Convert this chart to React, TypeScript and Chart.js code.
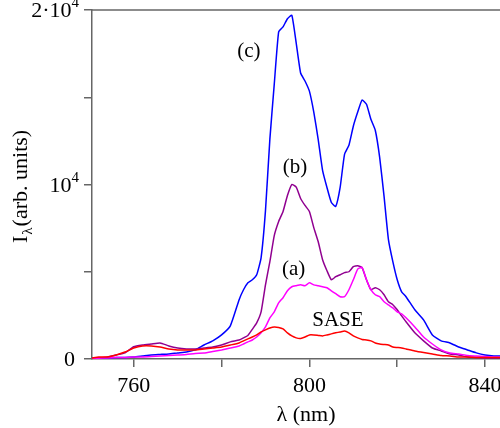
import React, { useEffect, useRef } from "react";
import { Chart, registerables } from "chart.js";

Chart.register(...registerables);

const wavelengths = [750.5, 752, 754, 756, 758, 760, 762, 764, 766, 768, 770, 772, 774, 776, 778, 780, 782,
  784, 785, 786, 787, 788, 789, 790, 791, 792, 793, 794, 795, 796, 797, 798, 799, 800, 801, 802, 803, 804,
  805, 806, 807, 808, 809, 810, 811, 812, 813, 814, 815, 816, 817, 818, 819, 820, 821, 822,
  824, 826, 828, 830, 832, 834, 836, 838, 840, 842, 843.4];

const seriesC = [30, 50, 60, 90, 80, 110, 170, 230, 260, 290, 350, 400, 520, 800, 1040, 1380, 1900,
  3400, 3970, 4370, 4540, 4830, 5800, 8500, 12600, 15750, 18750, 19030, 19500, 19700, 18100, 16390, 15930, 15350, 14150, 12590, 10810, 9830,
  8970, 8740, 9830, 11730, 12250, 13340, 14150, 14840, 14600, 13740, 13110, 11560, 9320, 6840, 5580, 4540, 3850, 3570,
  2820, 2240, 1380, 1040, 920, 690, 520, 350, 230, 170, 170];

const seriesB = [30, 60, 115, 230, 350, 700, 800, 860, 920, 750, 630, 575, 575, 630, 690, 800, 980,
  1090, 1210, 1350, 1700, 2070, 2700, 4250, 5580, 7070, 7880, 8450, 9370, 10000, 9850, 9200, 8800, 8450, 7530, 6730, 5690, 5060,
  4540, 4720, 4830, 4950, 5000, 5290, 5350, 5230, 4540, 3970, 4080, 3970, 3680, 3280, 3110, 2820, 2470, 2130,
  1500, 1040, 630, 460, 290, 230, 115, 90, 60, 60, 60];

const seriesA = [30, 50, 60, 80, 80, 115, 115, 140, 170, 200, 230, 260, 320, 345, 430, 520, 630,
  750, 860, 980, 1090, 1260, 1500, 1840, 2360, 2700, 3220, 3510, 3910, 4140, 4200, 4250, 4200, 4370, 4250, 4200, 4140, 4080,
  3910, 3740, 3570, 3570, 3970, 4540, 5150, 5250, 4540, 3970, 3680, 3570, 3280, 3100, 2930, 2700, 2590, 2360,
  1840, 1260, 860, 520, 345, 290, 200, 170, 140, 115, 115];

const seriesSASE = [60, 115, 115, 230, 400, 630, 750, 750, 690, 575, 520, 520, 520, 575, 630, 690, 800,
  920, 1040, 1150, 1260, 1380, 1550, 1670, 1780, 1840, 1810, 1720, 1500, 1320, 1210, 1180, 1260, 1380, 1380, 1350, 1320, 1380,
  1440, 1500, 1550, 1610, 1500, 1320, 1210, 1120, 1090, 1040, 920, 860, 830, 800, 690, 660, 630, 575,
  460, 370, 290, 200, 170, 115, 115, 90, 90, 90, 90];

const xTickValues = [760, 780, 800, 820, 840];
const xLabelValues = [760, 800, 840];
const yTickValues = [0, 5000, 10000, 15000, 20000];
const yLabelValues = [0, 10000, 20000];
const yLabelMain = ["0", "10", "2·10"];
const yLabelSup = ["", "4", "4"];

const curveLabels = ["(c)", "(b)", "(a)", "SASE"];
const curveLabelX = [786.2, 796.7, 796.4, 806.5];
const curveLabelY = [17600, 10980, 5120, 2185];

const AXIS_COLOR = "#666666";
const FONT = '"Liberation Serif", "Times New Roman", serif';

const textPlugin = {
  id: "textPlugin",
  afterDraw(chart: any) {
    const { ctx, chartArea, scales } = chart;
    const xs = scales.x;
    const ys = scales.y;
    ctx.save();
    ctx.strokeStyle = AXIS_COLOR;
    ctx.lineWidth = 1.5;
    ctx.beginPath();
    ctx.moveTo(chartArea.left, chartArea.top);
    ctx.lineTo(chart.width, chartArea.top);
    ctx.stroke();

    ctx.fillStyle = "#000";
    ctx.font = `22px ${FONT}`;
    ctx.textAlign = "center";
    ctx.textBaseline = "alphabetic";
    xLabelValues.forEach((v) => {
      ctx.fillText(String(v), xs.getPixelForValue(v), chartArea.bottom + 33);
    });
    ctx.fillText("λ (nm)", 306, 421);

    const R = 79;
    yLabelValues.forEach((v, i) => {
      const py = ys.getPixelForValue(v);
      ctx.font = `15px ${FONT}`;
      const w2 = yLabelSup[i] ? ctx.measureText(yLabelSup[i]).width : 0;
      ctx.font = `22px ${FONT}`;
      const w1 = ctx.measureText(yLabelMain[i]).width;
      ctx.textAlign = "left";
      const baseX = i === 0 ? 75 - w1 : R - w2 - w1;
      ctx.fillText(yLabelMain[i], baseX, py + 7);
      if (yLabelSup[i]) {
        ctx.font = `15px ${FONT}`;
        ctx.fillText(yLabelSup[i], baseX + w1, py - 3);
      }
    });

    ctx.save();
    ctx.translate(27, 243);
    ctx.rotate(-Math.PI / 2);
    ctx.textAlign = "left";
    ctx.font = `22px ${FONT}`;
    ctx.fillText("I", 0, 0);
    let off = ctx.measureText("I").width + 1;
    ctx.font = `15px ${FONT}`;
    ctx.fillText("λ", off, 5);
    off += ctx.measureText("λ").width + 1;
    ctx.font = `22px ${FONT}`;
    ctx.fillText("(arb. units)", off, 0);
    ctx.restore();

    ctx.font = `21px ${FONT}`;
    ctx.textAlign = "center";
    ctx.textBaseline = "middle";
    curveLabels.forEach((t, i) => {
      ctx.fillText(t, xs.getPixelForValue(curveLabelX[i]), ys.getPixelForValue(curveLabelY[i]));
    });
    ctx.restore();
  },
};

function makeData(values: number[]) {
  return wavelengths.map((x, i) => ({ x, y: values[i] }));
}

export default function App() {
  const ref = useRef<HTMLCanvasElement>(null);
  useEffect(() => {
    if (!ref.current) return;
    const common = { borderWidth: 1.5, pointRadius: 0, fill: false, tension: 0.15 };
    const chart = new Chart(ref.current, {
      type: "line",
      data: {
        datasets: [
          { label: "SASE", data: makeData(seriesSASE), borderColor: "#ff0000", ...common },
          { label: "(a)", data: makeData(seriesA), borderColor: "#ff00ff", ...common },
          { label: "(b)", data: makeData(seriesB), borderColor: "#900090", ...common },
          { label: "(c)", data: makeData(seriesC), borderColor: "#0000ff", ...common },
        ],
      },
      options: {
        animation: false,
        responsive: false,
        layout: { padding: { top: 10, left: 0, right: 0, bottom: 0 } },
        plugins: { legend: { display: false }, tooltip: { enabled: false } },
        scales: {
          x: {
            type: "linear",
            min: 750.5,
            max: 843.4,
            grid: { display: true, drawOnChartArea: false, drawTicks: true, tickLength: 8, color: AXIS_COLOR, lineWidth: 1.5 },
            border: { display: true, color: AXIS_COLOR, width: 1.5 },
            ticks: { display: false },
            afterBuildTicks: (s: any) => { s.ticks = xTickValues.map((v) => ({ value: v })); },
            afterFit: (s: any) => { s.height = 69; },
          },
          y: {
            type: "linear",
            min: 0,
            max: 20000,
            grid: { display: true, drawOnChartArea: false, drawTicks: true, tickLength: 8, color: AXIS_COLOR, lineWidth: 1.5 },
            border: { display: true, color: AXIS_COLOR, width: 1.5 },
            ticks: { display: false },
            afterBuildTicks: (s: any) => { s.ticks = yTickValues.map((v) => ({ value: v })); },
            afterFit: (s: any) => { s.width = 92; },
          },
        },
      },
      plugins: [textPlugin],
    } as any);
    return () => chart.destroy();
  }, []);
  return (
    <div style={{ position: "absolute", left: 0, top: 0, width: 500, height: 428 }}>
      <canvas ref={ref} width={500} height={428} style={{ width: 500, height: 428 }} />
    </div>
  );
}
